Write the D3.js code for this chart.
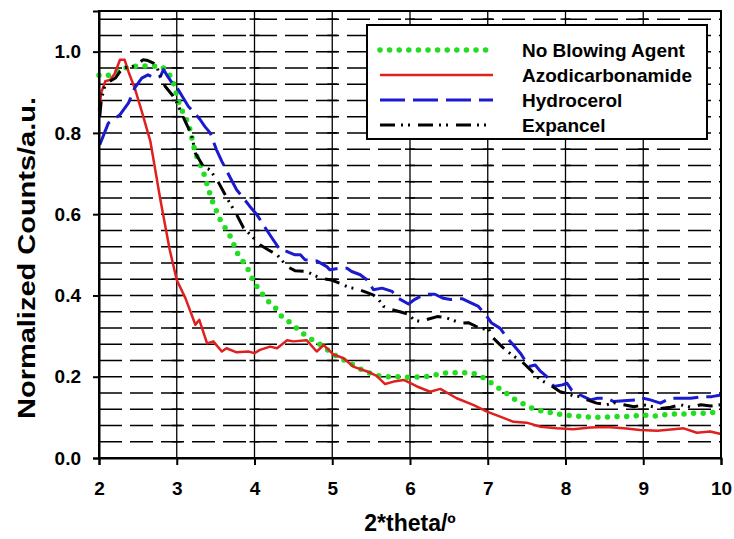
<!DOCTYPE html>
<html>
<head>
<meta charset="utf-8">
<script src="https://cdn.jsdelivr.net/npm/d3@7"></script>
<style>
  body { margin: 0; background: #fff; }
  text { font-family: "Liberation Sans", Arial, sans-serif; font-weight: bold; }
</style>
</head>
<body>
<div id="chart"></div>
<script>
// x ticks / y ticks
const xTicks = [2, 3, 4, 5, 6, 7, 8, 9, 10];
const yTicks = [0, 0.2, 0.4, 0.6, 0.8, 1.0];

// series names
const names = ["No Blowing Agent", "Azodicarbonamide", "Hydrocerol", "Expancel"];

// No Blowing Agent
const noneX = [2.00,2.10,2.18,2.27,2.36,2.46,2.55,2.63,2.72,2.81,2.87,2.94,3.02,3.09,3.15,3.24,3.34,3.45,3.56,3.69,3.79,3.90,4.00,4.09,4.18,4.27,4.35,4.46,4.57,4.67,4.78,4.89,4.99,5.10,5.23,5.34,5.47,5.60,5.72,5.83,5.94,6.07,6.20,6.32,6.43,6.56,6.67,6.80,6.91,7.02,7.14,7.25,7.37,7.48,7.60,7.73,7.86,7.98,8.11,8.24,8.37,8.49,8.62,8.75,8.88,9.00,9.13,9.26,9.39,9.52,9.65,9.78,9.88,10.0];
const noneY = [0.942,0.940,0.947,0.955,0.961,0.964,0.966,0.964,0.964,0.964,0.951,0.935,0.878,0.845,0.824,0.750,0.705,0.635,0.586,0.545,0.500,0.471,0.430,0.406,0.385,0.369,0.348,0.333,0.315,0.299,0.287,0.274,0.258,0.246,0.233,0.221,0.210,0.202,0.200,0.200,0.199,0.199,0.200,0.204,0.209,0.210,0.210,0.209,0.202,0.188,0.172,0.158,0.141,0.131,0.120,0.114,0.110,0.106,0.103,0.102,0.100,0.100,0.102,0.102,0.103,0.106,0.103,0.106,0.108,0.108,0.110,0.110,0.112,0.114];

// Azodicarbonamide
const azoX = [2.00,2.03,2.08,2.14,2.20,2.27,2.33,2.38,2.46,2.55,2.66,2.79,2.91,3.00,3.11,3.24,3.29,3.39,3.47,3.58,3.64,3.77,3.92,4.00,4.07,4.20,4.29,4.42,4.50,4.67,4.80,4.89,5.02,5.14,5.27,5.45,5.57,5.68,5.79,5.92,6.09,6.26,6.39,6.60,6.82,6.99,7.16,7.33,7.50,7.68,7.89,8.10,8.32,8.53,8.75,8.96,9.18,9.39,9.52,9.69,9.86,10.0];
const azoY = [0.857,0.900,0.927,0.930,0.945,0.980,0.980,0.950,0.910,0.853,0.780,0.635,0.512,0.438,0.394,0.328,0.340,0.282,0.287,0.262,0.270,0.260,0.262,0.258,0.266,0.274,0.270,0.290,0.287,0.290,0.262,0.278,0.254,0.246,0.225,0.213,0.202,0.182,0.188,0.192,0.176,0.163,0.170,0.147,0.130,0.114,0.102,0.089,0.087,0.077,0.073,0.071,0.075,0.076,0.073,0.069,0.067,0.071,0.073,0.062,0.065,0.059];

// Hydrocerol
const hydroX = [2.01,2.12,2.27,2.38,2.46,2.55,2.63,2.72,2.79,2.83,2.87,2.94,3.02,3.07,3.15,3.21,3.30,3.36,3.43,3.51,3.58,3.69,3.77,3.84,3.94,4.03,4.14,4.24,4.33,4.42,4.52,4.59,4.65,4.80,4.93,4.97,5.08,5.19,5.25,5.36,5.45,5.53,5.64,5.77,5.85,5.98,6.05,6.13,6.24,6.32,6.43,6.52,6.67,6.77,6.88,6.99,7.05,7.16,7.25,7.33,7.42,7.53,7.61,7.68,7.76,7.85,7.96,8.02,8.08,8.19,8.28,8.32,8.41,8.53,8.62,8.75,8.90,8.96,9.09,9.22,9.35,9.48,9.61,9.76,9.88,10.0];
const hydroY = [0.771,0.824,0.845,0.874,0.911,0.935,0.943,0.935,0.939,0.956,0.943,0.923,0.906,0.890,0.865,0.853,0.833,0.816,0.800,0.759,0.730,0.689,0.660,0.644,0.619,0.599,0.566,0.537,0.512,0.508,0.500,0.500,0.488,0.485,0.471,0.463,0.467,0.467,0.459,0.451,0.438,0.414,0.418,0.410,0.393,0.379,0.389,0.397,0.403,0.403,0.393,0.390,0.392,0.383,0.373,0.348,0.332,0.319,0.295,0.278,0.258,0.225,0.229,0.213,0.200,0.176,0.180,0.184,0.167,0.155,0.147,0.143,0.147,0.147,0.139,0.141,0.143,0.149,0.143,0.135,0.147,0.147,0.147,0.151,0.151,0.155];

// Expancel
const expX = [2.01,2.03,2.08,2.14,2.21,2.27,2.33,2.40,2.46,2.57,2.63,2.70,2.74,2.79,2.85,2.94,3.00,3.06,3.13,3.19,3.24,3.34,3.43,3.54,3.60,3.66,3.77,3.86,3.97,4.07,4.18,4.29,4.42,4.52,4.67,4.80,4.89,4.99,5.10,5.21,5.32,5.45,5.53,5.60,5.66,5.75,5.87,5.98,6.05,6.13,6.24,6.35,6.45,6.54,6.65,6.75,6.86,6.90,7.01,7.05,7.14,7.23,7.31,7.44,7.55,7.63,7.72,7.80,7.93,8.02,8.10,8.19,8.28,8.40,8.53,8.62,8.75,8.88,9.00,9.13,9.22,9.35,9.48,9.61,9.74,9.87,10.0];
const expY = [0.841,0.882,0.919,0.927,0.935,0.951,0.961,0.961,0.966,0.980,0.978,0.972,0.964,0.939,0.915,0.894,0.875,0.849,0.820,0.796,0.750,0.718,0.709,0.677,0.656,0.635,0.599,0.566,0.545,0.525,0.512,0.500,0.471,0.461,0.459,0.447,0.441,0.438,0.430,0.420,0.416,0.407,0.401,0.389,0.373,0.366,0.360,0.354,0.340,0.336,0.342,0.348,0.346,0.340,0.332,0.333,0.323,0.317,0.319,0.299,0.282,0.266,0.254,0.237,0.217,0.200,0.188,0.180,0.163,0.159,0.153,0.151,0.143,0.135,0.131,0.136,0.131,0.126,0.131,0.126,0.122,0.125,0.131,0.125,0.131,0.128,0.131];

const W = 734, H = 539;
const margin = {top: 11, right: 13, bottom: 81, left: 99};
const width = W - margin.left - margin.right,
      height = H - margin.top - margin.bottom;

const styles = [
  {color: "#22dd22", width: 5.5, dash: "0 9.6", cap: "round"},
  {color: "#e0201e", width: 2.5, dash: null, cap: "butt"},
  {color: "#1a1ad0", width: 3, dash: "25 8", cap: "butt"},
  {color: "#000000", width: 3, dash: "15 6 2 5 2 8", cap: "butt"}
];
const series = [[noneX, noneY], [azoX, azoY], [hydroX, hydroY], [expX, expY]];

const svg = d3.select("#chart").append("svg")
  .attr("width", W).attr("height", H);
const g = svg.append("g")
  .attr("transform", "translate(" + margin.left + "," + margin.top + ")");

const x = d3.scaleLinear().domain([2, 10]).range([0, width]);
const y = d3.scaleLinear().domain([0, 1.1]).range([height, 0]);

// horizontal dashed grid every 0.04
const gridY = d3.range(1, 28).map(i => i * 0.04);
g.append("g").selectAll("line").data(gridY).enter().append("line")
  .attr("x1", 0).attr("x2", width)
  .attr("y1", d => y(d)).attr("y2", d => y(d))
  .attr("stroke", "#000").attr("stroke-width", 1.5)
  .attr("stroke-dasharray", "23 8");

// vertical solid grid
const inner = xTicks.slice(1, -1);
g.append("g").selectAll("line").data(inner).enter().append("line")
  .attr("x1", d => x(d)).attr("x2", d => x(d))
  .attr("y1", 0).attr("y2", height)
  .attr("stroke", "#000").attr("stroke-width", 1.3);

// little crosses where the grids meet
const cross = [];
inner.forEach(a => gridY.forEach(b => cross.push([a, b])));
g.append("g").selectAll("line").data(cross).enter().append("line")
  .attr("x1", d => x(d[0]) - 5).attr("x2", d => x(d[0]) + 5)
  .attr("y1", d => y(d[1])).attr("y2", d => y(d[1]))
  .attr("stroke", "#000").attr("stroke-width", 1.5);

// curves
const line = d3.line().x(d => x(d[0])).y(d => y(d[1]));
series.forEach((s, i) => {
  const pts = s[0].map((v, j) => [v, s[1][j]]);
  const st = styles[i];
  g.append("path")
    .datum(pts)
    .attr("fill", "none")
    .attr("stroke", st.color)
    .attr("stroke-width", st.width)
    .attr("stroke-linecap", st.cap)
    .attr("stroke-linejoin", "round")
    .attr("stroke-dasharray", st.dash)
    .attr("d", line);
});

// frame
g.append("rect")
  .attr("x", 0).attr("y", 0).attr("width", width).attr("height", height)
  .attr("fill", "none").attr("stroke", "#000").attr("stroke-width", 2);

// axes
const yAxis = g.append("g")
  .call(d3.axisLeft(y).tickValues(yTicks).tickFormat(d3.format(".1f")).tickSize(6).tickPadding(12));
const xAxis = g.append("g")
  .attr("transform", "translate(0," + height + ")")
  .call(d3.axisBottom(x).tickValues(xTicks).tickFormat(d3.format("d")).tickSize(7).tickPadding(17));
[xAxis, yAxis].forEach(a => {
  a.select(".domain").attr("stroke", "#000").attr("stroke-width", 2);
  a.selectAll(".tick line").attr("stroke", "#000").attr("stroke-width", 2);
  a.selectAll(".tick text").attr("fill", "#000")
    .style("font-size", "19px").style("font-weight", "bold")
    .style("font-family", '"Liberation Sans", Arial, sans-serif');
});

// axis titles
svg.append("text")
  .attr("x", 410).attr("y", 531)
  .attr("text-anchor", "middle")
  .style("font-size", "23px")
  .text("2*theta/\u00ba");

svg.append("text")
  .attr("transform", "translate(35,258) rotate(-90)")
  .attr("text-anchor", "middle")
  .attr("textLength", 322)
  .attr("lengthAdjust", "spacingAndGlyphs")
  .style("font-size", "24px")
  .text("Normalized Counts/a.u.");

// legend
const legend = svg.append("g");
legend.append("rect")
  .attr("x", 367).attr("y", 25).attr("width", 340).attr("height", 114)
  .attr("fill", "#fff").attr("stroke", "#000").attr("stroke-width", 2);
const rowY = [50, 75, 100, 125];
names.forEach((n, i) => {
  const st = styles[i];
  legend.append("line")
    .attr("x1", 380).attr("x2", 493)
    .attr("y1", rowY[i]).attr("y2", rowY[i])
    .attr("stroke", st.color)
    .attr("stroke-width", st.width)
    .attr("stroke-linecap", st.cap)
    .attr("stroke-dasharray", st.dash);
  legend.append("text")
    .attr("x", 522).attr("y", rowY[i]).attr("dy", "0.36em")
    .style("font-size", "19px")
    .text(n);
});
</script>
</body>
</html>
